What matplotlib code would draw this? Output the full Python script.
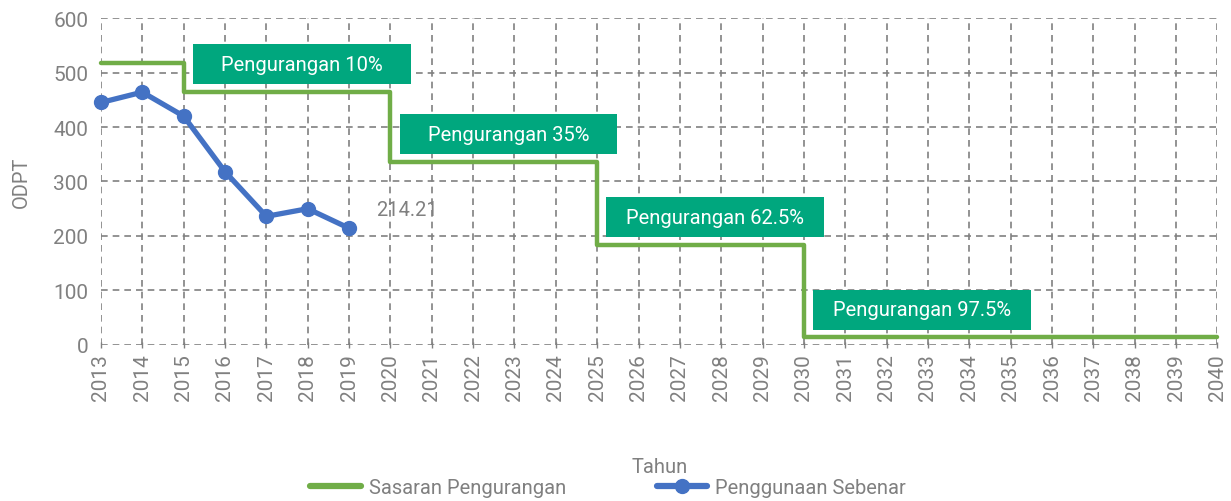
import matplotlib.pyplot as plt
from matplotlib.patches import Rectangle
from matplotlib.lines import Line2D

plt.rcParams['font.family'] = ['Roboto', 'DejaVu Sans']

# target steps (year the level starts, ODPT level)
target_years = [2013, 2015, 2020, 2025, 2030, 2040]
target_values = [517, 465, 336, 184, 14, 14]
target_labels = ["", "Pengurangan 10%", "Pengurangan 35%",
                 "Pengurangan 62.5%", "Pengurangan 97.5%"]

# actual consumption
actual_years = [2013, 2014, 2015, 2016, 2017, 2018, 2019]
actual_values = [445, 464, 420, 318, 236, 250, 214.21]

years = list(range(2013, 2041))

green = '#70AD47'
blue = '#4472C4'
box_green = '#00A77E'
grey = '#808080'


def main():
    fig = plt.figure(figsize=(12.31, 5.02), dpi=100)
    ax = fig.add_axes([0.082, 0.311, 0.907, 0.651])

    ax.plot(target_years, target_values, drawstyle='steps-post', color=green,
            lw=3.2, solid_joinstyle='round', solid_capstyle='round', zorder=3, clip_on=False)
    ax.plot(actual_years, actual_values, color=blue, lw=3.8, marker='o', ms=10,
            zorder=4, clip_on=False)

    # reduction boxes, each sitting just above its step
    for yr, val, lab in zip(target_years[1:], target_values[1:], target_labels[1:]):
        x0 = yr + 0.22
        y0 = val + 14
        ax.add_patch(Rectangle((x0, y0), 5.27, 73, facecolor=box_green,
                               edgecolor='none', zorder=5))
        ax.text(x0 + 2.635, y0 + 36.5, lab, color='white', fontsize=14.5,
                ha='center', va='center', zorder=6)

    ax.text(actual_years[-1] + 1.4, actual_values[-1] + 34,
            f"{actual_values[-1]:.2f}", color=grey, fontsize=14.5,
            ha='center', va='center')

    ax.set_xlim(2013, 2040)
    ax.set_ylim(0, 600)
    ax.set_xticks(years)
    ax.set_xticklabels([str(y) for y in years], rotation=90)
    ax.set_yticks(range(0, 601, 100))
    ax.tick_params(axis='both', colors=grey, labelsize=15, length=4,
                   direction='inout', width=1)
    ax.tick_params(axis='y', length=0, pad=9)
    ax.tick_params(axis='x', pad=4)
    for s in ax.spines.values():
        s.set_visible(False)
    ax.grid(True, color='#808080', ls=(0, (4, 3)), lw=1.2)
    ax.set_axisbelow(True)

    ax.set_ylabel("ODPT", color=grey, fontsize=14.5, labelpad=16)
    ax.set_xlabel("Tahun", color=grey, fontsize=14.5, labelpad=41)

    handles = [Line2D([], [], color=green, lw=4.5, solid_capstyle='round'),
               Line2D([], [], color=blue, lw=4.5, marker='o', ms=10,
                      solid_capstyle='round')]
    fig.legend(handles, ["Sasaran Pengurangan", "Penggunaan Sebenar"],
               loc='center', bbox_to_anchor=(0.494, 0.026), ncol=2, frameon=False,
               fontsize=14.5, labelcolor=grey, handlelength=2.5, columnspacing=4.5,
               handletextpad=0.4)

    fig.savefig("out.png", dpi=100)


if __name__ == "__main__":
    main()
